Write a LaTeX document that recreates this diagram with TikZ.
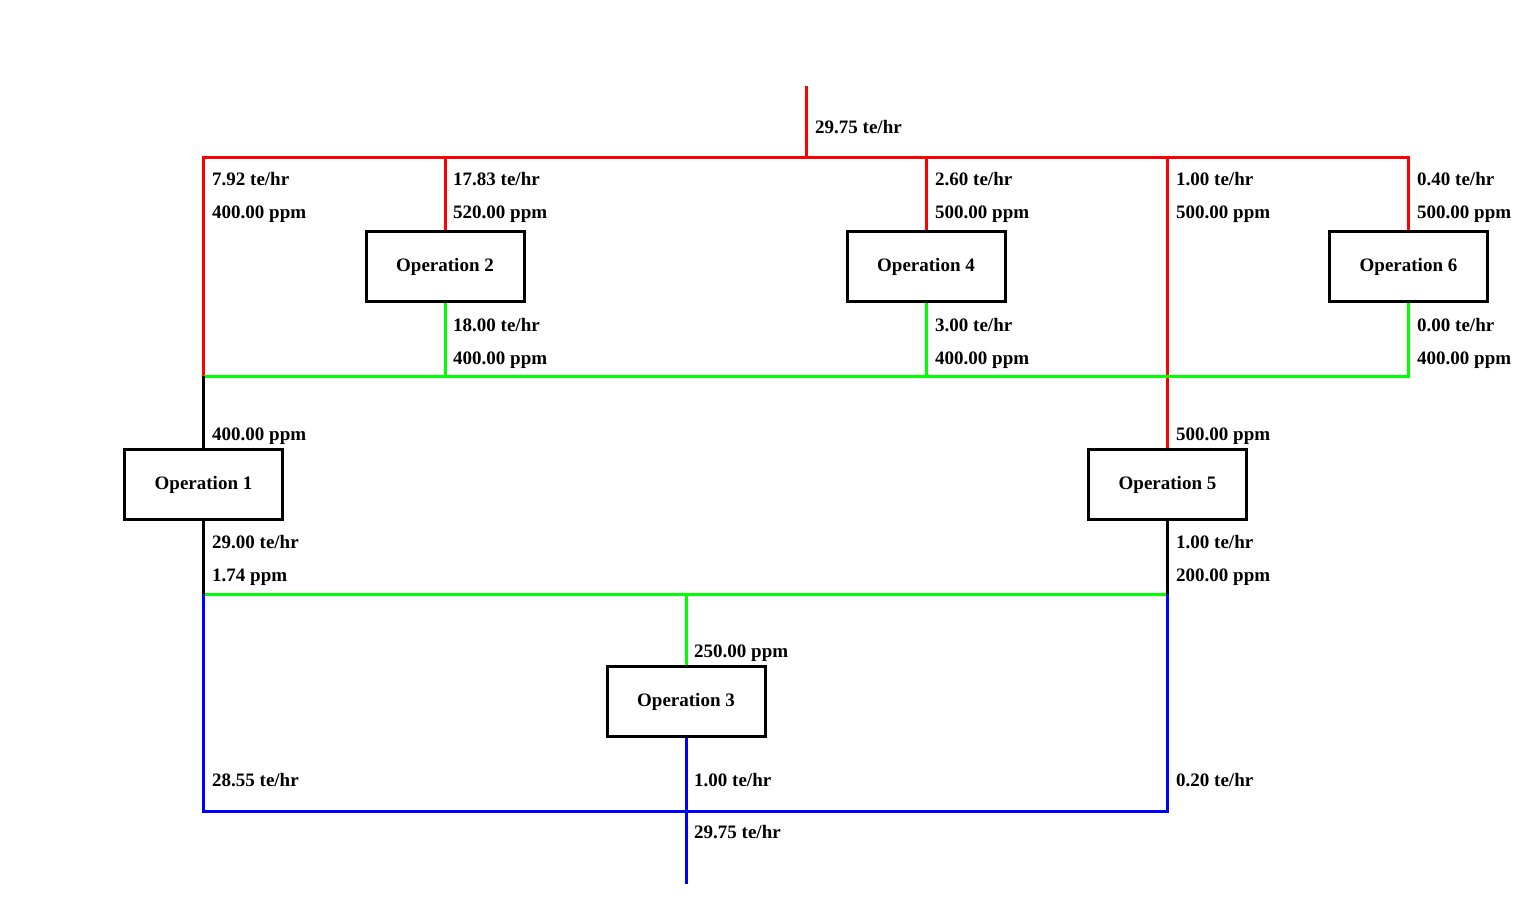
\documentclass[tikz,border=0pt]{standalone}
\usepackage{fontspec}
\setmainfont{Liberation Serif}
\definecolor{pr}{RGB}{255,0,0}
\definecolor{pg}{RGB}{0,255,0}
\definecolor{pb}{RGB}{0,0,255}
\begin{document}
\begin{tikzpicture}[x=1pt,y=-1pt,
  op/.style={draw=black,line width=3pt,fill=white,minimum width=158pt,minimum height=70pt,inner sep=0pt,font=\fontsize{19}{22}\selectfont\bfseries},
  lab/.style={anchor=base west,inner sep=0pt,font=\fontsize{19}{22}\selectfont\bfseries},
  pipe/.style={line width=3pt,line join=miter},
  rp/.style={pipe,draw=pr},
  gp/.style={pipe,draw=pg},
  bp/.style={pipe,draw=pb},
  kp/.style={pipe,draw=black}]
\useasboundingbox (0,0) rectangle (1521,920);
% operations
\node[op] (op2) at (445,266.5) {Operation 2};
\node[op] (op4) at (926,266.5) {Operation 4};
\node[op] (op6) at (1408.5,266.5) {Operation 6};
\node[op] (op1) at (203.5,484.5) {Operation 1};
\node[op] (op5) at (1167.5,484.5) {Operation 5};
\node[op] (op3) at (686,701.5) {Operation 3};
% junction coordinates
\coordinate (src) at (806,86);
\coordinate (rs) at (806,158);
\coordinate (rL) at (203.5,158);
\coordinate (rR) at (1408.5,158);
\coordinate (r2) at (445,158);
\coordinate (r4) at (926,158);
\coordinate (r5) at (1167.5,158);
\coordinate (gL) at (203.5,376);
\coordinate (gR) at (1408.5,376);
\coordinate (g2) at (445,376);
\coordinate (g4) at (926,376);
\coordinate (hL) at (203.5,594);
\coordinate (hR) at (1167.5,594);
\coordinate (h3) at (686,594);
\coordinate (bL) at (203.5,811);
\coordinate (bR) at (1167.5,811);
\coordinate (sink) at (686,884);
% red fresh water
\draw[rp] (src) -- (rs);
\draw[rp] (gL) -- (rL) -- (rR) -- (op6.north);
\draw[rp] (r2) -- (op2.north);
\draw[rp] (r4) -- (op4.north);
\draw[rp] (r5) -- (op5.north);
% green reuse
\draw[gp] (op2.south) -- (g2);
\draw[gp] (op4.south) -- (g4);
\draw[gp] (op6.south) -- (gR) -- (gL);
\draw[gp] (hL) -- (hR);
\draw[gp] (h3) -- (op3.north);
% black
\draw[kp] (gL) -- (op1.north);
\draw[kp] (op1.south) -- (hL);
\draw[kp] (op5.south) -- (hR);
% blue wastewater
\draw[bp] (hL) -- (bL) -- (bR) -- (hR);
\draw[bp] (op3.south) -- (sink);
% redraw boxes on top
\node[op] at (op2) {Operation 2};
\node[op] at (op4) {Operation 4};
\node[op] at (op6) {Operation 6};
\node[op] at (op1) {Operation 1};
\node[op] at (op5) {Operation 5};
\node[op] at (op3) {Operation 3};
% labels
\node[lab] (l0) at (815,134) {29.75 te/hr};
\node[lab] (l1a) at (212,186) {7.92 te/hr};
\node[lab] (l1b) at (212,219) {400.00 ppm};
\node[lab] (l2a) at (453,186) {17.83 te/hr};
\node[lab] (l2b) at (453,219) {520.00 ppm};
\node[lab] (l4a) at (935,186) {2.60 te/hr};
\node[lab] (l4b) at (935,219) {500.00 ppm};
\node[lab] (l5a) at (1176,186) {1.00 te/hr};
\node[lab] (l5b) at (1176,219) {500.00 ppm};
\node[lab] (l6a) at (1417,186) {0.40 te/hr};
\node[lab] (l6b) at (1417,219) {500.00 ppm};
\node[lab] (m2a) at (453,331) {18.00 te/hr};
\node[lab] (m2b) at (453,364) {400.00 ppm};
\node[lab] (m4a) at (935,331) {3.00 te/hr};
\node[lab] (m4b) at (935,364) {400.00 ppm};
\node[lab] (m6a) at (1417,331) {0.00 te/hr};
\node[lab] (m6b) at (1417,364) {400.00 ppm};
\node[lab] (i1) at (212,440) {400.00 ppm};
\node[lab] (i5) at (1176,440) {500.00 ppm};
\node[lab] (o1a) at (212,548) {29.00 te/hr};
\node[lab] (o1b) at (212,581) {1.74 ppm};
\node[lab] (o5a) at (1176,548) {1.00 te/hr};
\node[lab] (o5b) at (1176,581) {200.00 ppm};
\node[lab] (i3) at (694,657) {250.00 ppm};
\node[lab] (w1) at (212,786) {28.55 te/hr};
\node[lab] (w3) at (694,786) {1.00 te/hr};
\node[lab] (w5) at (1176,786) {0.20 te/hr};
\node[lab] (wt) at (694,838) {29.75 te/hr};
\end{tikzpicture}
\end{document}
